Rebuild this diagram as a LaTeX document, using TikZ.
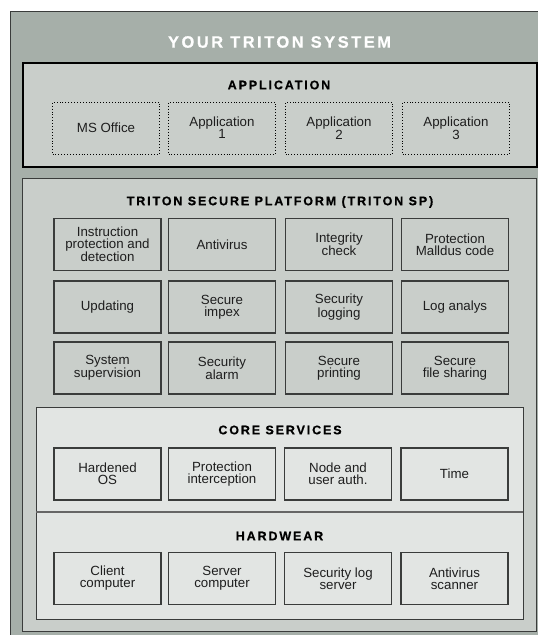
\documentclass[tikz,border=0pt]{standalone}
\usepackage{fontspec}
\setmainfont{Liberation Sans}
\newfontfamily\headfont{Liberation Sans Bold}[LetterSpace=15, FakeBold=0.6]
\definecolor{framegray}{HTML}{A6AFA9}
\definecolor{midgray}{HTML}{C9CECA}
\definecolor{lightgray}{HTML}{E2E5E3}
\definecolor{edgegray}{HTML}{3A3C3B}
\definecolor{inkgray}{HTML}{1E1E1E}
\tikzset{
  layer/.style={draw=edgegray, line width=1.4pt, anchor=north west, inner sep=0pt},
  itembox/.style={draw=edgegray, line width=1.1pt, minimum width=107, minimum height=52,
    inner sep=1pt, align=center, text=inkgray,
    font=\fontsize{13.3}{12}\selectfont},
  appitem/.style={itembox, draw=black, line width=0.9pt, dotted, fill=none},
  heading/.style={font=\headfont\fontsize{12.5}{14}\selectfont, text=black, inner sep=0pt},
}
\begin{document}
\begin{tikzpicture}[x=1pt,y=-1pt]
\useasboundingbox (0,0) rectangle (538,635);
\fill[white] (0,0) rectangle (538,635);
\begin{scope}
\clip (0,0) rectangle (538,635);
% outer system frame
\node[layer, fill=framegray, minimum width=560, minimum height=640] (system) at (10,11) {};
\node[font=\headfont\fontsize{16.5}{18}\selectfont, text=white, inner sep=0pt] (systitle) at (279.5,42) {YOUR TRITON SYSTEM};

% application layer
\node[layer, draw=black, line width=1.6pt, fill=midgray, minimum width=514, minimum height=104] (app) at (22,62) {};
\node[heading] (apptitle) at (279,85) {APPLICATION};
\node[appitem] (msoffice) at (106,128) {MS Office};
\node[appitem] (app1) at (222,128) {Application\\1};
\node[appitem] (app2) at (339,128) {Application\\2};
\node[appitem] (app3) at (456,128) {Application\\3};

% secure platform
\node[layer, fill=midgray, minimum width=514, minimum height=453] (sp) at (22,178) {};
\node[heading] (sptitle) at (280,202) {TRITON SECURE PLATFORM (TRITON SP)};
\begin{scope}[every node/.append style={itembox, fill=midgray}]
\node (ipd) at (107.5,244.5) {Instruction\\protection and\\detection};
\node (antivirus) at (222,244.5) {Antivirus};
\node (integrity) at (339,244.5) {Integrity\\check};
\node (malldus) at (455,244.5) {Protection\\Malldus code};
\node (updating) at (107.5,307) {Updating};
\node (impex) at (222,307) {Secure\\impex};
\node (seclog) at (339,307) {Security\\logging};
\node (loganalys) at (455,307) {Log analys};
\node (supervision) at (107.5,368) {System\\supervision};
\node (alarm) at (222,368) {Security\\alarm};
\node (printing) at (339,368) {Secure\\printing};
\node (filesharing) at (455,368) {Secure\\file sharing};
\end{scope}

% core services and hardware
\node[layer, fill=lightgray, minimum width=487, minimum height=212] (core) at (36,407) {};
\coordinate (divL) at (36,512);
\coordinate (divR) at (523,512);
\draw[draw=gray!80!black, line width=1.4pt] (divL) -- (divR);
\node[heading] (coretitle) at (280,430) {CORE SERVICES};
\node[heading] (hwtitle) at (279.5,536) {HARDWEAR};
\begin{scope}[every node/.append style={itembox, fill=lightgray}]
\node (hardened) at (107.5,474) {Hardened\\OS};
\node (interception) at (222,474) {Protection\\interception};
\node (nodeauth) at (338,474) {Node and\\user auth.};
\node (time) at (454.5,474) {Time};
\node (client) at (107.5,578.5) {Client\\computer};
\node (server) at (222,578.5) {Server\\computer};
\node (logserver) at (338,578.5) {Security log\\server};
\node (avscanner) at (454.5,578.5) {Antivirus\\scanner};
\end{scope}
\end{scope}
\end{tikzpicture}
\end{document}
